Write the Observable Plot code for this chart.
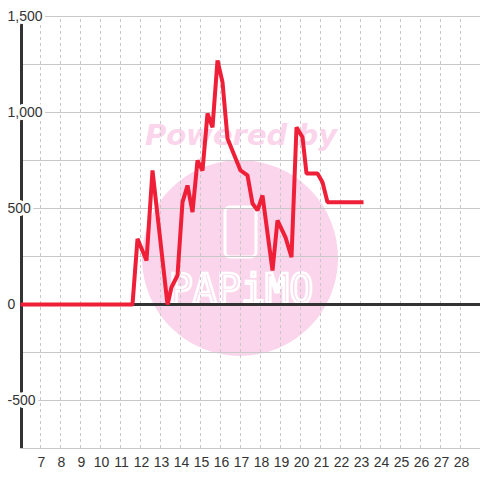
<!DOCTYPE html>
<html>
<head>
<meta charset="utf-8">
<script src="https://cdn.jsdelivr.net/npm/d3@7"></script>
<script src="https://cdn.jsdelivr.net/npm/@observablehq/plot@0.6"></script>
<style>
  html, body { margin: 0; padding: 0; background: #ffffff; }
  #chart svg { display: block; }
</style>
</head>
<body>
<div id="chart"></div>
<script>
// Data
const xs = [6, 11.6, 11.85, 12.3, 12.6, 13.35, 13.55, 13.85, 14.1, 14.35, 14.6, 14.85, 15.1, 15.35, 15.6, 15.85, 16.1, 16.35, 17.0, 17.35, 17.6, 17.85, 18.1, 18.6, 18.85, 19.25, 19.55, 19.8, 20.1, 20.3, 20.85, 21.1, 21.35, 23.15];
const ys = [0, 0, 342, 229, 698, 0, 90, 151, 533, 620, 481, 750, 698, 995, 923, 1271, 1158, 865, 698, 672, 526, 490, 568, 177, 438, 350, 246, 923, 871, 682, 682, 637, 533, 533];
const xTicks = [7, 8, 9, 10, 11, 12, 13, 14, 15, 16, 17, 18, 19, 20, 21, 22, 23, 24, 25, 26, 27, 28];
const yTicks = [-500, 0, 500, 1000, 1500];
const yGrid = [-750, -500, -250, 0, 250, 500, 750, 1000, 1250, 1500];

const data = xs.map((x, i) => ({x, y: ys[i]}));
const fmt = d => d < 0 ? "-" + d3.format(",")(-d) : d3.format(",")(d);

const chart = Plot.plot({
  width: 480,
  height: 480,
  marginLeft: 20,
  marginRight: 0,
  marginTop: 16,
  marginBottom: 32,
  style: {fontFamily: "'Liberation Sans', Arial, sans-serif", fontSize: "14px", background: "transparent"},
  x: {domain: [6, 29], axis: null},
  y: {domain: [-750, 1500], axis: null},
  marks: [
    Plot.ruleY(yGrid, {stroke: "#c8c8c8", strokeWidth: 1}),
    Plot.ruleX(xTicks, {y1: -750, y2: 1500, stroke: "#c8c8c8", strokeWidth: 1, strokeDasharray: "3,3"}),
    Plot.ruleY([0], {stroke: "#333333", strokeWidth: 3}),
    Plot.ruleX([6], {y1: -750, y2: 1500, stroke: "#333333", strokeWidth: 3, dx: 1}),
    Plot.line(data, {x: "x", y: "y", stroke: "#ee1f37", strokeWidth: 4, strokeLinejoin: "miter", strokeLinecap: "butt"}),
    Plot.text(yTicks, {x: 6, y: d => d, text: fmt, textAnchor: "start", dx: -13, fill: "#333333", stroke: "white", strokeWidth: 6, fontSize: 14}),
    Plot.text(xTicks, {x: d => d, y: -750, dy: 14, dx: 1, text: d => String(d), fill: "#333333", fontSize: 14})
  ]
});

document.getElementById("chart").appendChild(chart);

// Watermark (decoration, drawn behind the plot marks)
const svg = d3.select(chart);
const firstMark = chart.querySelector("g");
const wm = d3.create("svg:g");
wm.append("circle").attr("cx", 240).attr("cy", 258).attr("r", 98).attr("fill", "#fad5eb");
wm.append("text").attr("x", 241).attr("y", 145).attr("text-anchor", "middle")
  .attr("font-family", "'DejaVu Sans', sans-serif").attr("font-weight", "bold").attr("font-style", "italic")
  .attr("font-size", 29).attr("fill", "#fad5eb").text("Powered by");
wm.append("rect").attr("x", 225).attr("y", 207).attr("width", 31).attr("height", 50).attr("rx", 5)
  .attr("fill", "none").attr("stroke", "white").attr("stroke-width", 3);
wm.append("text").attr("x", 241).attr("y", 303).attr("text-anchor", "middle")
  .attr("font-family", "'DejaVu Sans Mono', monospace").attr("font-size", 40).attr("letter-spacing", 0)
  .attr("fill", "none").attr("stroke", "white").attr("stroke-width", 2.5).text("PAPiMO");
chart.insertBefore(wm.node(), firstMark);
</script>
</body>
</html>
